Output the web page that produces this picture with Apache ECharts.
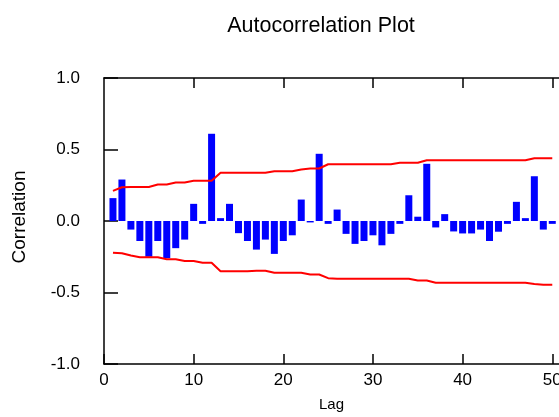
<!DOCTYPE html>
<html>
<head>
<meta charset="utf-8">
<title>Autocorrelation Plot</title>
<script src="https://cdn.jsdelivr.net/npm/echarts@6/dist/echarts.min.js"></script>
<style>
  html, body { margin: 0; padding: 0; background: #fff; }
  #chart { width: 559px; height: 417px; }
</style>
</head>
<body>
<div id="chart"></div>
<script>
// Lags 1..50
const lags = [];
for (let k = 1; k <= 50; k++) lags.push(k);

// Sample autocorrelation at each lag
const acf = [
  0.16, 0.29, -0.06, -0.14, -0.25, -0.14, -0.26, -0.19, -0.13, 0.12,
  -0.02, 0.61, 0.02, 0.12, -0.085, -0.14, -0.20, -0.13, -0.23, -0.14,
  -0.10, 0.15, -0.01, 0.47, -0.02, 0.08, -0.09, -0.16, -0.14, -0.10,
  -0.17, -0.09, -0.02, 0.18, 0.03, 0.40, -0.045, 0.048, -0.073, -0.087,
  -0.087, -0.06, -0.14, -0.075, -0.02, 0.134, 0.02, 0.313, -0.06, -0.02
];

// Upper and lower confidence limits per lag
const upperLimit = [
  0.211, 0.236, 0.238, 0.238, 0.238, 0.255, 0.255, 0.269, 0.269, 0.281,
  0.281, 0.281, 0.337, 0.337, 0.337, 0.337, 0.337, 0.337, 0.348, 0.348,
  0.348, 0.36, 0.367, 0.367, 0.397, 0.397, 0.397, 0.397, 0.397, 0.397,
  0.397, 0.397, 0.407, 0.407, 0.407, 0.425, 0.425, 0.425, 0.425, 0.425,
  0.425, 0.425, 0.425, 0.425, 0.425, 0.425, 0.425, 0.439, 0.439, 0.439
];
const lowerLimit = [
  -0.222, -0.225, -0.241, -0.253, -0.253, -0.253, -0.267, -0.267, -0.279, -0.279,
  -0.292, -0.292, -0.351, -0.351, -0.351, -0.351, -0.348, -0.348, -0.362, -0.362,
  -0.362, -0.362, -0.374, -0.374, -0.40, -0.404, -0.404, -0.404, -0.404, -0.404,
  -0.404, -0.404, -0.404, -0.404, -0.416, -0.416, -0.432, -0.432, -0.432, -0.432,
  -0.432, -0.432, -0.432, -0.432, -0.432, -0.432, -0.432, -0.44, -0.446, -0.446
];

// Axis ticks
const lagTicks = [0, 10, 20, 30, 40, 50];
const corrTicks = [-1.0, -0.5, 0.0, 0.5, 1.0];

const FONT = "'Liberation Sans', Arial, Helvetica, sans-serif";
const zip = (xs, ys) => xs.map((x, i) => [x, ys[i]]);

const chart = echarts.init(document.getElementById('chart'), null, { renderer: 'canvas' });

chart.setOption({
  animation: false,
  backgroundColor: '#ffffff',
  title: {
    text: 'Autocorrelation Plot',
    left: 316,
    top: 10,
    textAlign: 'center',
    textStyle: { fontFamily: FONT, fontSize: 21.5, fontWeight: 'normal', color: '#000' }
  },
  grid: { left: 104, top: 78, right: 0, bottom: 53, containLabel: false, outerBoundsMode: 'none' },
  xAxis: [
    {
      type: 'value',
      position: 'bottom',
      min: 0,
      max: 50.75,
      interval: 10,
      name: 'Lag',
      nameLocation: 'middle',
      nameGap: 33,
      nameTextStyle: { fontFamily: FONT, fontSize: 15, color: '#000' },
      axisLine: { show: true, onZero: false, lineStyle: { color: '#000', width: 1.5 } },
      axisTick: { show: true, inside: true, length: 10, customValues: lagTicks, lineStyle: { color: '#000', width: 1.5 } },
      axisLabel: { customValues: lagTicks, margin: 8, fontFamily: FONT, fontSize: 17, color: '#000' },
      splitLine: { show: false }
    },
    {
      type: 'value',
      position: 'top',
      min: 0,
      max: 50.75,
      interval: 10,
      axisLine: { show: true, onZero: false, lineStyle: { color: '#000', width: 1.5 } },
      axisTick: { show: true, inside: true, length: 10, customValues: lagTicks.slice(1), lineStyle: { color: '#000', width: 1.5 } },
      axisLabel: { show: false },
      splitLine: { show: false }
    }
  ],
  yAxis: {
    type: 'value',
    min: -1,
    max: 1,
    interval: 0.5,
    name: 'Correlation',
    nameLocation: 'middle',
    nameGap: 75,
    nameRotate: 90,
    nameTextStyle: { fontFamily: FONT, fontSize: 19, color: '#000', padding: [0, 0, 0, 8] },
    axisLine: { show: true, onZero: false, lineStyle: { color: '#000', width: 1.5 } },
    axisTick: { show: true, inside: true, length: 14, customValues: corrTicks, lineStyle: { color: '#000', width: 1.5 } },
    axisLabel: {
      margin: 24,
      fontFamily: FONT,
      fontSize: 17,
      color: '#000',
      formatter: v => v.toFixed(1)
    },
    splitLine: { show: false }
  },
  series: [
    {
      name: 'ACF',
      type: 'bar',
      xAxisIndex: 0,
      data: zip(lags, acf),
      barWidth: 7,
      itemStyle: { color: '#0000ff' }
    },
    {
      name: 'Upper limit',
      type: 'line',
      xAxisIndex: 0,
      data: zip(lags, upperLimit),
      showSymbol: false,
      lineStyle: { color: '#ff0000', width: 2 },
      z: 3
    },
    {
      name: 'Lower limit',
      type: 'line',
      xAxisIndex: 0,
      data: zip(lags, lowerLimit),
      showSymbol: false,
      lineStyle: { color: '#ff0000', width: 2 },
      z: 3
    }
  ]
});
</script>
</body>
</html>
